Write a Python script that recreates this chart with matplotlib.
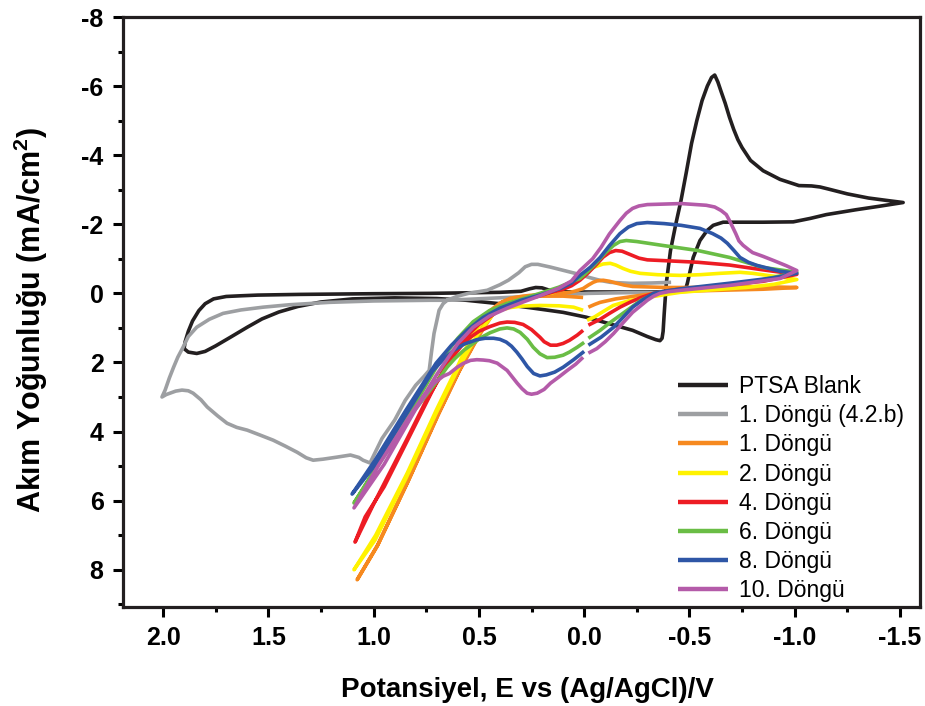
# Döngüsel voltametri grafiği (PTSA)
import numpy as np
import matplotlib
matplotlib.use("Agg")
import matplotlib.pyplot as plt
from matplotlib.ticker import MultipleLocator

plt.rcParams['font.family'] = ['Liberation Sans', 'DejaVu Sans']
plt.rcParams['mathtext.fontset'] = 'custom'
plt.rcParams['mathtext.rm'] = 'Liberation Sans'
plt.rcParams['mathtext.bf'] = 'Liberation Sans:bold'

# veriler (E / V, I / mA cm-2)
blank_E = [1.90, 1.88, 1.84, 1.80, 1.75, 1.68, 1.60, 1.53, 1.45, 1.36, 1.25, 1.10, 0.90, 0.70,
           0.56, 0.40, 0.24, 0.10, -0.01, -0.12, -0.23, -0.30, -0.34, -0.36, -0.37, -0.375, -0.38,
           -0.39, -0.41, -0.435, -0.46, -0.485, -0.51, -0.535, -0.56, -0.585, -0.605, -0.62,
           -0.635, -0.65, -0.67, -0.69, -0.71, -0.73, -0.75, -0.79, -0.85, -0.93, -1.02, -1.08,
           -1.12, -1.16, -1.25, -1.35, -1.45, -1.515, -1.40, -1.29, -1.15, -1.074, -0.993,
           -0.85, -0.774, -0.66, -0.613, -0.584, -0.55, -0.518, -0.49, -0.48, -0.45, -0.40,
           -0.30, -0.10, 0.05, 0.13, 0.17, 0.20, 0.23, 0.26, 0.30, 0.40, 0.73, 1.00, 1.35,
           1.55, 1.63, 1.70, 1.76, 1.80, 1.83, 1.86, 1.88, 1.895, 1.90]
blank_I = [1.60, 1.70, 1.74, 1.68, 1.52, 1.27, 0.98, 0.74, 0.54, 0.38, 0.25, 0.16, 0.13, 0.15,
           0.20, 0.30, 0.43, 0.55, 0.69, 0.88, 1.07, 1.25, 1.34, 1.37, 1.30, 1.10, 0.60,
           -0.29, -1.24, -2.00, -2.69, -3.50, -4.34, -5.00, -5.58, -6.00, -6.25, -6.32,
           -6.12, -5.85, -5.50, -5.10, -4.75, -4.45, -4.22, -3.85, -3.55, -3.30, -3.12, -3.11,
           -3.08, -3.02, -2.88, -2.76, -2.68, -2.63, -2.52, -2.42, -2.28, -2.17, -2.07,
           -2.06, -2.06, -2.06, -1.97, -1.82, -1.53, -1.04, -0.29, -0.09, -0.06, -0.05,
           -0.04, -0.04, -0.04, -0.05, -0.10, -0.16, -0.17, -0.13, -0.06, -0.03, 0.00, 0.01, 0.03,
           0.05, 0.07, 0.09, 0.16, 0.30, 0.50, 0.80, 1.10, 1.40, 1.60]

gray_E = [-0.41, -0.20, -0.02, 0.30, 0.65, 0.73, 1.00, 1.21, 1.40, 1.525, 1.63, 1.715, 1.78, 1.84,
          1.88, 1.905, 1.93, 1.95, 1.97, 1.99, 2.005, 1.985, 1.967, 1.94, 1.91, 1.88, 1.857, 1.82,
          1.79, 1.74, 1.696, 1.65, 1.60, 1.54, 1.477, 1.42, 1.363, 1.32, 1.287, 1.24, 1.173,
          1.11, 1.07, 1.05, 1.017, 0.96, 0.90, 0.85, 0.80, 0.76, 0.736, 0.725, 0.713, 0.70,
          0.689, 0.67, 0.651, 0.60, 0.55, 0.50, 0.46, 0.40, 0.36, 0.31, 0.28, 0.25, 0.22, 0.16,
          0.095, 0.03, -0.024, -0.08, -0.124, -0.22, -0.32, -0.413]
gray_I = [-0.03, -0.02, 0.00, 0.10, 0.20, 0.20, 0.22, 0.26, 0.33, 0.40, 0.48, 0.58, 0.75, 0.98,
          1.25, 1.56, 1.85, 2.14, 2.45, 2.80, 3.00, 2.93, 2.89, 2.83, 2.80, 2.82, 2.89, 3.08,
          3.29, 3.55, 3.76, 3.88, 3.96, 4.10, 4.25, 4.42, 4.60, 4.76, 4.83, 4.80, 4.74,
          4.68, 4.75, 4.83, 4.91, 4.20, 3.67, 3.10, 2.66, 2.40, 2.23, 1.70, 1.16, 0.80,
          0.49, 0.30, 0.20, 0.08, 0.00, -0.05, -0.09, -0.25, -0.38, -0.60, -0.77, -0.84, -0.84, -0.76,
          -0.66, -0.56, -0.46, -0.37, -0.32, -0.29, -0.30, -0.32]

c1_E = [-0.02, -0.05, -0.076, -0.15, -0.23, -0.31, -0.39, -0.52, -0.65, -0.85, -1.01, -0.79, -0.55,
        -0.39, -0.23, -0.19, -0.157, -0.12, -0.09, -0.06, -0.043, -0.02, 0.005, 0.04, 0.067, 0.13,
        0.21, 0.29, 0.35, 0.39, 0.423, 0.46, 0.499, 0.594, 0.694, 0.836, 0.983, 1.078,
        0.98, 0.83, 0.69, 0.59, 0.50, 0.447, 0.40, 0.35, 0.21, 0.10, 0.005]
c1_I = [0.40, 0.32, 0.26, 0.16, 0.09, 0.02, -0.03, -0.07, -0.09, -0.12, -0.17, -0.20, -0.17,
        -0.17, -0.20, -0.24, -0.29, -0.35, -0.38, -0.36, -0.32, -0.24, -0.14, -0.07, -0.03, 0.00,
        0.03, 0.08, 0.14, 0.25, 0.50, 0.85, 1.22, 2.26, 3.53, 5.44, 7.32, 8.29,
        7.28, 5.35, 3.45, 2.20, 1.20, 0.50, 0.28, 0.17, 0.08, 0.08, 0.12]

c2_E = [-0.014, -0.05, -0.076, -0.138, -0.22, -0.30, -0.38, -0.456, -0.60, -0.77, -0.90, -1.01,
        -0.94, -0.87, -0.80, -0.74, -0.646, -0.55, -0.456, -0.35, -0.266, -0.22, -0.185, -0.15,
        -0.124, -0.09, -0.043, -0.01, 0.02, 0.05, 0.08, 0.15, 0.25, 0.36, 0.432, 0.508, 0.603,
        0.703, 0.846, 0.993, 1.093, 0.99, 0.84, 0.70, 0.60, 0.54, 0.48, 0.44, 0.40, 0.35, 0.30,
        0.21, 0.12, 0.05, 0.005]
c2_I = [0.78, 0.68, 0.58, 0.35, 0.20, 0.12, 0.04, -0.03, -0.10, -0.17, -0.26, -0.40,
        -0.47, -0.52, -0.58, -0.61, -0.58, -0.54, -0.52, -0.54, -0.58, -0.64, -0.72, -0.82,
        -0.87, -0.85, -0.75, -0.62, -0.46, -0.32, -0.20, -0.02, 0.10, 0.28, 0.60, 1.21, 2.23,
        3.47, 5.35, 7.14, 8.00, 7.00, 5.20, 3.35, 2.10, 1.30, 0.78, 0.60, 0.49, 0.41, 0.37,
        0.35, 0.36, 0.40, 0.49]

c4_E = [-0.02, -0.076, -0.12, -0.17, -0.22, -0.27, -0.33, -0.39, -0.45, -0.65, -0.85, -1.01,
        -0.85, -0.69, -0.54, -0.37, -0.30, -0.26, -0.22, -0.18, -0.15, -0.12, -0.09, -0.06,
        -0.02, 0.02, 0.06, 0.10, 0.20, 0.30, 0.40, 0.50, 0.56, 0.603, 0.65, 0.703, 0.846, 0.95,
        1.04, 1.088, 1.00, 0.84, 0.75, 0.684, 0.65, 0.61, 0.58, 0.54, 0.50, 0.447, 0.40, 0.366,
        0.33, 0.29, 0.25, 0.21, 0.19, 0.16, 0.13, 0.10, 0.07, 0.033, 0.005]
c4_I = [0.92, 0.75, 0.58, 0.40, 0.25, 0.12, 0.00, -0.07, -0.12, -0.23, -0.35, -0.55,
        -0.68, -0.82, -0.90, -0.95, -0.97, -1.02, -1.12, -1.22, -1.24, -1.18, -1.05, -0.85,
        -0.60, -0.38, -0.22, -0.12, 0.05, 0.22, 0.48, 0.90, 1.25, 1.60, 2.05, 2.60, 4.34, 5.60,
        6.47, 7.20, 6.10, 4.20, 3.10, 2.42, 2.05, 1.73, 1.50, 1.27, 1.10, 0.96, 0.86, 0.83,
        0.84, 0.90, 1.05, 1.27, 1.40, 1.50, 1.50, 1.45, 1.36, 1.21, 1.07]

c6_E = [-0.02, -0.076, -0.12, -0.17, -0.22, -0.27, -0.31, -0.36, -0.42, -0.55, -0.79, -1.01,
        -0.85, -0.69, -0.54, -0.37, -0.25, -0.20, -0.17, -0.14, -0.10, -0.06, -0.02, 0.02, 0.05,
        0.12, 0.21, 0.29, 0.366, 0.45, 0.527, 0.60, 0.684, 0.836, 0.979, 1.093,
        0.98, 0.84, 0.75, 0.684, 0.65, 0.613, 0.57, 0.527, 0.49, 0.447, 0.40, 0.366, 0.335,
        0.304, 0.27, 0.242, 0.21, 0.176, 0.14, 0.10, 0.07, 0.033, 0.0]
c6_I = [1.30, 1.07, 0.86, 0.64, 0.42, 0.20, 0.08, -0.03, -0.08, -0.17, -0.32, -0.61,
        -0.75, -1.04, -1.24, -1.39, -1.50, -1.53, -1.50, -1.39, -1.17, -0.90, -0.65, -0.43, -0.36,
        -0.18, 0.00, 0.15, 0.29, 0.50, 0.82, 1.30, 1.95, 3.55, 4.95, 6.07,
        5.00, 3.65, 2.95, 2.42, 2.13, 1.88, 1.64, 1.45, 1.28, 1.14, 1.03, 1.00, 1.03,
        1.13, 1.33, 1.56, 1.75, 1.86, 1.85, 1.79, 1.70, 1.56, 1.42]

c8_E = [-0.02, -0.08, -0.14, -0.19, -0.23, -0.28, -0.33, -0.38, -0.47, -0.70, -0.90, -1.01,
        -0.93, -0.82, -0.78, -0.74, -0.71, -0.68, -0.65, -0.61, -0.55, -0.46, -0.38, -0.30,
        -0.25, -0.21, -0.17, -0.12, -0.076, -0.03, 0.02, 0.06, 0.11, 0.21, 0.30, 0.40, 0.48,
        0.556, 0.63, 0.703, 0.846, 0.993, 1.102, 0.99, 0.85, 0.72, 0.67, 0.62, 0.57, 0.51,
        0.47, 0.43, 0.40, 0.37, 0.345, 0.32, 0.295, 0.27, 0.24, 0.21, 0.18, 0.14, 0.10, 0.05, 0.0]
c8_I = [1.50, 1.27, 0.98, 0.66, 0.40, 0.18, 0.00, -0.06, -0.14, -0.30, -0.45, -0.58,
        -0.64, -0.81, -0.90, -1.04, -1.25, -1.45, -1.60, -1.73, -1.88, -1.97, -2.02, -2.05,
        -2.02, -1.92, -1.73, -1.38, -1.04, -0.76, -0.52, -0.30, -0.15, 0.05, 0.20, 0.43, 0.70,
        1.07, 1.50, 2.02, 3.38, 4.83, 5.81, 4.95, 3.55, 2.25, 1.92, 1.65, 1.47, 1.34,
        1.30, 1.30, 1.33, 1.41, 1.53, 1.70, 1.90, 2.12, 2.32, 2.39, 2.36, 2.28, 2.14, 1.92, 1.68]

c10_E = [-0.02, -0.06, -0.10, -0.14, -0.185, -0.23, -0.27, -0.30, -0.33, -0.36, -0.40, -0.46,
         -0.69, -0.93, -1.01, -0.96, -0.90, -0.85, -0.80, -0.78, -0.755, -0.735, -0.72, -0.705,
         -0.69, -0.675, -0.65, -0.62, -0.58, -0.46, -0.30, -0.26, -0.23, -0.20, -0.17, -0.12,
         -0.08, -0.04, 0.02, 0.06, 0.12, 0.21, 0.29, 0.366, 0.45, 0.527, 0.60, 0.65, 0.70,
         0.75, 0.836, 0.979, 1.093, 0.95, 0.80, 0.717, 0.67, 0.64, 0.603, 0.575, 0.54, 0.51,
         0.48, 0.45, 0.413, 0.366, 0.318, 0.295, 0.271, 0.25, 0.223, 0.19, 0.16, 0.12, 0.08,
         0.04, 0.005]
c10_I = [1.73, 1.60, 1.40, 1.16, 0.85, 0.55, 0.35, 0.20, 0.08, 0.00, -0.05, -0.09,
         -0.23, -0.43, -0.66, -0.80, -0.95, -1.07, -1.18, -1.27, -1.39, -1.52, -1.73, -1.92,
         -2.11, -2.28, -2.40, -2.50, -2.55, -2.60, -2.57, -2.53, -2.46, -2.32, -2.11, -1.72,
         -1.33, -1.00, -0.66, -0.36, -0.15, 0.07, 0.25, 0.43, 0.66, 0.98, 1.45, 1.90, 2.35,
         2.85, 3.62, 5.00, 6.21, 4.95, 3.35, 2.62, 2.40, 2.32, 2.14, 2.03, 1.94, 1.92,
         1.93, 1.95, 2.02, 2.23, 2.60, 2.76, 2.89, 2.92, 2.89, 2.78, 2.60, 2.42, 2.23,
         2.05, 1.85]

labels = ['PTSA Blank', '1. Döngü (4.2.b)', '1. Döngü', '2. Döngü', '4. Döngü',
          '6. Döngü', '8. Döngü', '10. Döngü']
colors = ['#231f20', '#9d9fa2', '#f6891f', '#fff200', '#ed1c24', '#6abd45', '#2e56a6', '#b45ba9']
series = [(blank_E, blank_I), (gray_E, gray_I), (c1_E, c1_I), (c2_E, c2_I), (c4_E, c4_I),
          (c6_E, c6_I), (c8_E, c8_I), (c10_E, c10_I)]

fig = plt.figure(figsize=(9.25, 7.06), dpi=100)
ax = fig.add_axes([0.133, 0.1402, 0.8616, 0.8357])

for (E, I), c, lab in zip(series, colors, labels):
    ax.plot(E, I, color=c, lw=2.6, label=lab, solid_joinstyle='round', solid_capstyle='butt')

ax.set_xlim(2.19, -1.595)
ax.set_ylim(9.08, -8.0)
ax.xaxis.set_minor_locator(MultipleLocator(0.25))
ax.yaxis.set_minor_locator(MultipleLocator(1))
ax.set_xticks([2.0, 1.5, 1.0, 0.5, 0.0, -0.5, -1.0, -1.5])
ax.set_xticklabels(['2.0', '1.5', '1.0', '0.5', '0.0', '-0.5', '-1.0', '-1.5'])
ax.set_yticks([-8, -6, -4, -2, 0, 2, 4, 6, 8])
ax.set_yticklabels(['-8', '-6', '-4', '-2', '0', '2', '4', '6', '8'])

ax.tick_params(which='major', direction='out', length=7, width=2.2, pad=7,
               labelsize=18, top=False, right=False)
ax.tick_params(which='minor', direction='out', length=3.5, width=2.2, top=False, right=False)
for lab in ax.get_xticklabels() + ax.get_yticklabels():
    lab.set_fontweight('bold')
for s in ax.spines.values():
    s.set_linewidth(2.3)
    s.set_color('#231f20')

ax.set_xlabel('Potansiyel, E vs (Ag/AgCl)/V', fontsize=20, fontweight='bold')
ax.set_ylabel(r'Akım Yoğunluğu (mA/cm$^{\mathbf{2}}$)', fontsize=22, fontweight='bold')
ax.xaxis.set_label_coords(0.507, -0.118)
ax.yaxis.set_label_coords(-0.0916, 0.486)

leg = ax.legend(loc='upper left', bbox_to_anchor=(678 / 925, 1 - 375 / 706),
                bbox_transform=fig.transFigure, frameon=False, fontsize=16.5,
                handlelength=2.2, handletextpad=0.45, labelspacing=0.27,
                borderpad=0, borderaxespad=0)
for h in leg.get_lines():
    h.set_linewidth(3.2)

fig.savefig('out.png', dpi=100)
